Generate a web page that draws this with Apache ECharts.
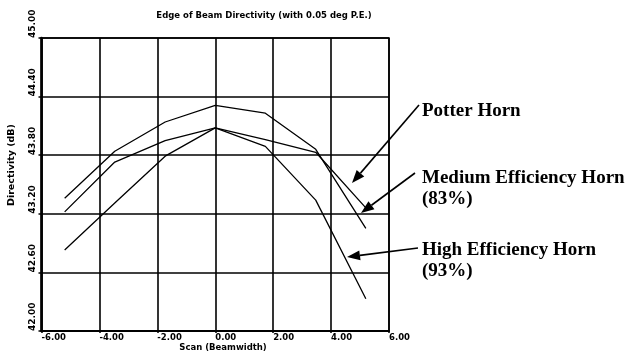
<!DOCTYPE html>
<html>
<head>
<meta charset="utf-8">
<script src="https://cdn.jsdelivr.net/npm/echarts@6/dist/echarts.min.js"></script>
<style>
html,body{margin:0;padding:0;background:#fff;}
#chart{width:643px;height:356px;}
</style>
</head>
<body>
<div id="chart"></div>
<script>
// ---- data ----
const scanX = [-5.2, -3.47, -1.73, 0, 1.73, 3.47, 5.2];
const potterHorn = [43.36, 43.84, 44.14, 44.31, 44.23, 43.86, 43.05];
const mediumHorn = [43.22, 43.73, 43.95, 44.08, 43.96, 43.83, 43.26];
const highHorn = [42.83, 43.31, 43.79, 44.08, 43.89, 43.34, 42.33];

const xTickLabels = ['-6.00', '-4.00', '-2.00', '0.00', '2.00', '4.00', '6.00'];
const yTickLabels = ['42.00', '42.60', '43.20', '43.80', '44.40', '45.00'];
const xMin = -6, xMax = 6, xStep = 2;
const yMin = 42, yMax = 45, yStep = 0.6;

const titleText = 'Edge of Beam Directivity (with 0.05 deg P.E.)';
const xName = 'Scan (Beamwidth)';
const yName = 'Directivity (dB)';
const annotations = [
  { lines: ['Potter Horn'] },
  { lines: ['Medium Efficiency Horn', '(83%)'] },
  { lines: ['High Efficiency Horn', '(93%)'] }
];

// ---- chart ----
const chart = echarts.init(document.getElementById('chart'), null, { renderer: 'canvas' });
const plotFont = 'DejaVu Sans';
const serif = 'Liberation Serif';

function pairs(ys) { return scanX.map((x, i) => [x, ys[i]]); }

function arrow(x1, y1, x2, y2) {
  const ang = Math.atan2(y2 - y1, x2 - x1);
  const L = 13, W = 5;
  const bx = x2 - L * Math.cos(ang), by = y2 - L * Math.sin(ang);
  const px = -Math.sin(ang) * W, py = Math.cos(ang) * W;
  return [
    { type: 'line', shape: { x1: x1, y1: y1, x2: bx, y2: by }, style: { stroke: '#000', lineWidth: 1.6 } },
    { type: 'polygon', shape: { points: [[x2, y2], [bx + px, by + py], [bx - px, by - py]] }, style: { fill: '#000' } }
  ];
}

const graphics = [
  { type: 'text', x: 12, y: 165, rotation: Math.PI / 2,
    style: { text: yName, font: 'bold 9.5px "' + plotFont + '"', fill: '#000', align: 'center', verticalAlign: 'middle' } },
  { type: 'text', x: 223, y: 348,
    style: { text: xName, font: 'bold 8.5px "' + plotFont + '"', fill: '#000', align: 'center', verticalAlign: 'middle' } },
  { type: 'text', x: 264, y: 16,
    style: { text: titleText, font: 'bold 8.5px "' + plotFont + '"', fill: '#000', align: 'center', verticalAlign: 'middle' } }
];
const annPos = [[422, 111], [422, 178], [422, 250]];
const lineGap = 21;
annotations.forEach((a, k) => {
  a.lines.forEach((t, j) => {
    graphics.push({ type: 'text', x: annPos[k][0], y: annPos[k][1] + j * lineGap,
      style: { text: t, font: 'bold 19px "' + serif + '"', fill: '#000', align: 'left', verticalAlign: 'middle' } });
  });
});
arrow(419, 105, 352, 183).forEach(g => graphics.push(g));
arrow(415, 173, 361, 213).forEach(g => graphics.push(g));
arrow(418, 248, 347, 257).forEach(g => graphics.push(g));

const lineStyle = { color: '#000', width: 1.3 };

chart.setOption({
  animation: false,
  backgroundColor: '#fff',
  grid: { left: 41.5, right: 254, top: 38, bottom: 25, show: true, borderColor: '#000', borderWidth: 1.5, backgroundColor: 'transparent' },
  xAxis: {
    type: 'value', min: xMin, max: xMax, interval: xStep,
    axisLine: { show: true, onZero: false, lineStyle: { color: '#000', width: 2 } },
    axisTick: { show: true, length: 2, lineStyle: { color: '#000', width: 1.5 } },
    splitLine: { show: true, lineStyle: { color: '#000', width: 1.6 } },
    axisLabel: {
      color: '#000', fontFamily: plotFont, fontWeight: 'bold', fontSize: 8.5, margin: 2, align: 'left',
      showMinLabel: true, showMaxLabel: true,
      formatter: v => xTickLabels[Math.round((v - xMin) / xStep)]
    }
  },
  yAxis: {
    type: 'value', min: yMin, max: yMax, interval: yStep,
    axisLine: { show: true, onZero: false, lineStyle: { color: '#000', width: 2.6 } },
    axisTick: { show: true, length: 3, lineStyle: { color: '#000', width: 1.5 } },
    splitLine: { show: true, lineStyle: { color: '#000', width: 1.6 } },
    axisLabel: {
      color: '#000', fontFamily: plotFont, fontWeight: 'bold', fontSize: 9, margin: 4,
      rotate: 90, align: 'left', verticalAlign: 'bottom',
      showMinLabel: true, showMaxLabel: true,
      formatter: v => yTickLabels[Math.round((v - yMin) / yStep)]
    }
  },
  series: [
    { name: 'Potter Horn', type: 'line', data: pairs(potterHorn), symbol: 'none', lineStyle: lineStyle, z: 5 },
    { name: 'Medium Efficiency Horn (83%)', type: 'line', data: pairs(mediumHorn), symbol: 'none', lineStyle: lineStyle, z: 5 },
    { name: 'High Efficiency Horn (93%)', type: 'line', data: pairs(highHorn), symbol: 'none', lineStyle: lineStyle, z: 5 }
  ],
  graphic: graphics
});
</script>
</body>
</html>
